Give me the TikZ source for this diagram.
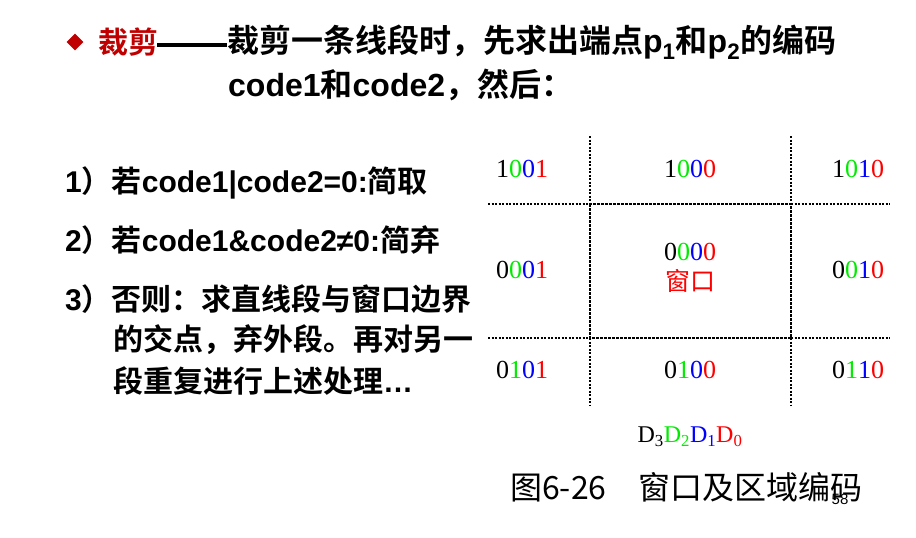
\documentclass[tikz,border=0pt]{standalone}
\usepackage{fontspec}
\setmainfont{Liberation Serif}
\newfontfamily\hei{Noto Sans CJK SC}[BoldFont={Noto Sans CJK SC Bold}]
\newfontfamily\arial{Liberation Sans}
\usetikzlibrary{positioning,shapes.geometric}
\definecolor{darkred}{RGB}{192,0,0}
\definecolor{bitgreen}{RGB}{0,235,0}
\definecolor{bitblue}{RGB}{0,0,255}
\definecolor{bitred}{RGB}{255,0,0}
\newcommand{\lat}[1]{{\arial\bfseries #1}}
\newcommand{\regcode}[4]{#1\textcolor{bitgreen}{#2}\textcolor{bitblue}{#3}\textcolor{bitred}{#4}}

\begin{document}
\begin{tikzpicture}[x=1pt, y=-1pt,
        head/.style={anchor=west, inner sep=0pt, font=\hei\bfseries\fontsize{32}{32}\selectfont},
        item/.style={anchor=west, inner sep=0pt, font=\hei\bfseries\fontsize{30}{30}\selectfont},
        code/.style={inner sep=0pt, font=\fontsize{26}{26}\selectfont},
        border/.style={dash pattern=on 2pt off 1.5pt, line width=1.6pt},
        window/.style={dash pattern=on 3pt off 1pt, line width=2pt}
    ]
    \useasboundingbox (0,0) rectangle (916,538);

    % Heading
    \node[diamond, fill=darkred, minimum width=17pt, minimum height=17pt, inner sep=0pt] (bullet) at (75,42) {};
    \node[head, font=\hei\bfseries\fontsize{30}{30}\selectfont, text=darkred] (topic) at (98,42) {裁剪};
    \node[head] (head) at (157,42) {\rule[0.16em]{70pt}{4.5pt}裁剪一条线段时，先求出端点\lat{p\textsubscript{1}}和\lat{p\textsubscript{2}}的编码};
    \node[head] (head2) at (228,85) {\lat{code1}和\lat{code2}，然后：};

    % Rules
    \node[item] (rule1) at (65,183) {\lat{1}）若\lat{code1|code2=0:}简取};
    \node[item] (rule2) at (65,240) {\lat{2}）若\lat{code1\&code2≠0:}简弃};
    \node[item] (rule3) at (65,299) {\lat{3}）否则：求直线段与窗口边界};
    \node[item] (rule3b) at (113,340) {的交点，弃外段。再对另一};
    \node[item] (rule3c) at (113,381) {段重复进行上述处理\lat{…}};

    % Grid
    \draw[border] (590,136) -- (590,204) (590,338) -- (590,405);
    \draw[border] (791,136) -- (791,204) (791,338) -- (791,405);
    \draw[border] (488,204) -- (590,204) (791,204) -- (890,204);
    \draw[border] (488,338) -- (590,338) (791,338) -- (890,338);
    \draw[window] (590,204) rectangle (791,338);

    % Region codes
    \node[code] (c1001) at (522,169) {\regcode1001};
    \node[code] (c1000) at (690,169) {\regcode1000};
    \node[code] (c1010) at (858,169) {\regcode1010};
    \node[code] (c0001) at (522,270) {\regcode0001};
    \node[code] (c0000) at (690,252) {\regcode0000};
    \node[code, below=8pt of c0000, font=\hei\fontsize{25}{25}\selectfont, text=bitred] (win) {窗口};
    \node[code] (c0010) at (858,270) {\regcode0010};
    \node[code] (c0101) at (522,370) {\regcode0101};
    \node[code] (c0100) at (690,370) {\regcode0100};
    \node[code] (c0110) at (858,370) {\regcode0110};

    % Caption
    \node[code, font=\fontsize{24}{24}\selectfont] (bits) at (690,437) {D\textsubscript{3}\textcolor{bitgreen}{D\textsubscript{2}}\textcolor{bitblue}{D\textsubscript{1}}\textcolor{bitred}{D\textsubscript{0}}};
    \node[anchor=west, inner sep=0pt, font=\hei\fontsize{32}{32}\selectfont] (caption) at (510,487) {图6-26\hspace{1em}窗口及区域编码};
    \node[inner sep=0pt, font=\arial\fontsize{15}{15}\selectfont] (page) at (840,499) {58};

\end{tikzpicture}
\end{document}
